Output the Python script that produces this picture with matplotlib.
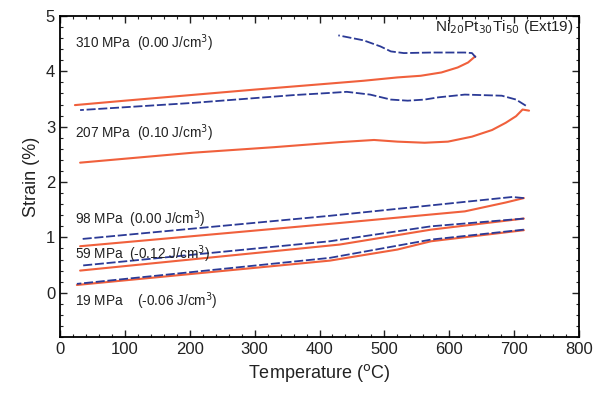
import matplotlib
matplotlib.use("Agg")
import matplotlib.pyplot as plt
from matplotlib.ticker import MultipleLocator

plt.rcParams['font.family'] = ['Liberation Sans', 'DejaVu Sans']

# Heating (red, solid) and cooling (blue, dashed) strain curves
t310_heat = [23, 100, 200, 300, 416, 468, 520, 556, 588, 613, 629, 640]
s310_heat = [3.39, 3.47, 3.57, 3.67, 3.78, 3.83, 3.89, 3.92, 3.98, 4.07, 4.16, 4.27]
t310_cool = [641, 635, 624, 572, 530, 510, 494, 468, 429]
s310_cool = [4.25, 4.33, 4.34, 4.34, 4.33, 4.36, 4.45, 4.56, 4.65]

t207_heat = [31, 205, 330, 430, 484, 520, 562, 598, 635, 666, 687, 703, 713, 723]
s207_heat = [2.35, 2.53, 2.63, 2.72, 2.76, 2.73, 2.71, 2.73, 2.82, 2.94, 3.07, 3.19, 3.31, 3.29]
t207_cool = [718, 703, 681, 624, 583, 562, 536, 510, 478, 442, 416, 359, 205, 31]
s207_cool = [3.38, 3.49, 3.56, 3.58, 3.53, 3.49, 3.47, 3.49, 3.58, 3.63, 3.61, 3.57, 3.43, 3.30]

t98_heat = [31, 431, 624, 687, 715]
s98_heat = [0.84, 1.26, 1.47, 1.63, 1.71]
t98_cool = [715, 697, 416, 33]
s98_cool = [1.71, 1.73, 1.39, 0.97]

t59_heat = [31, 431, 572, 715]
s59_heat = [0.40, 0.87, 1.14, 1.34]
t59_cool = [715, 572, 416, 33]
s59_cool = [1.34, 1.20, 0.93, 0.49]

t19_heat = [26, 416, 520, 572, 715]
s19_heat = [0.14, 0.58, 0.78, 0.93, 1.13]
t19_cool = [715, 572, 416, 26]
s19_cool = [1.14, 0.96, 0.63, 0.16]

labels = ["310 MPa  (0.00 J/cm$^3$)", "207 MPa  (0.10 J/cm$^3$)",
          "98 MPa  (0.00 J/cm$^3$)", "59 MPa  (-0.12 J/cm$^3$)",
          "19 MPa    (-0.06 J/cm$^3$)"]
label_y = [4.51, 2.89, 1.33, 0.69, -0.16]

RED = '#f0603c'
BLUE = '#2b3a96'

fig = plt.figure(figsize=(5.96, 4.04), dpi=100)
ax = fig.add_axes([60/596, 1 - 337/404, (579-60)/596, (337-16)/404])

heats = [(t310_heat, s310_heat), (t207_heat, s207_heat), (t98_heat, s98_heat),
         (t59_heat, s59_heat), (t19_heat, s19_heat)]
cools = [(t310_cool, s310_cool), (t207_cool, s207_cool), (t98_cool, s98_cool),
         (t59_cool, s59_cool), (t19_cool, s19_cool)]
for t, s in heats:
    ax.plot(t, s, color=RED, lw=1.5, solid_capstyle='round')
for t, s in cools:
    ax.plot(t, s, color=BLUE, lw=1.3, dashes=(5, 1.5))

for txt, y in zip(labels, label_y):
    ax.text(23, y, txt, fontsize=9.8, va='center', ha='left', color='#222222')

ax.text(792, 4.80, "Ni$_{20}$Pt$_{30}$Ti$_{50}$ (Ext19)", fontsize=11,
        ha='right', va='center', color='#222222')

ax.set_xlim(0, 800)
ax.set_ylim(-0.8, 5)
ax.xaxis.set_major_locator(MultipleLocator(100))
ax.xaxis.set_minor_locator(MultipleLocator(20))
ax.yaxis.set_major_locator(MultipleLocator(1))
ax.yaxis.set_minor_locator(MultipleLocator(0.2))
ax.tick_params(which='both', direction='in', top=True, right=True, labelsize=12,
               colors='#222222')
ax.tick_params(which='major', length=5, width=1)
ax.tick_params(which='minor', length=2.5, width=0.8)
for sp in ax.spines.values():
    sp.set_linewidth(1.3)

ax.set_xlabel("Temperature ($^{\\rm o}$C)", fontsize=13, color='#222222')
ax.set_ylabel("Strain (%)", fontsize=13, color='#222222')

fig.savefig("out.png", dpi=100)
